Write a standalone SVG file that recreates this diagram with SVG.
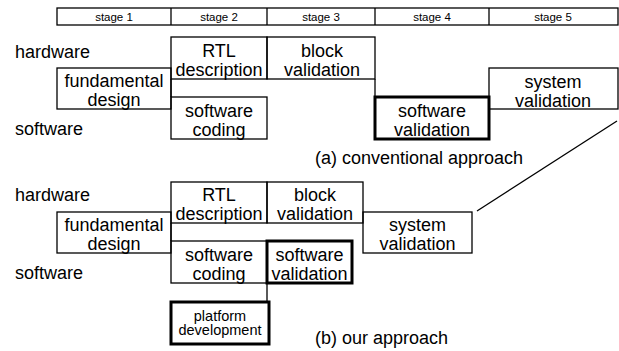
<svg xmlns="http://www.w3.org/2000/svg" width="619" height="351" viewBox="0 0 619 351">
<style>
.box{fill:none;stroke:#000;stroke-width:1.3}
.thick{fill:none;stroke:#000;stroke-width:3}
.t{font-family:"Liberation Sans",Arial,sans-serif;font-size:18px;fill:#000;text-anchor:middle}
.l{font-family:"Liberation Sans",Arial,sans-serif;font-size:18px;fill:#000}
.s{font-family:"Liberation Sans",Arial,sans-serif;font-size:11.5px;fill:#000;text-anchor:middle}
.p{font-family:"Liberation Sans",Arial,sans-serif;font-size:14.5px;fill:#000;text-anchor:middle}
.c{fill:none;stroke:#000;stroke-width:1.3}
</style>
<rect width="619" height="351" fill="#fff"/>
<g id="stages">
<rect class="box" x="57" y="8" width="561" height="17"/>
<line class="box" x1="171" y1="8" x2="171" y2="25"/>
<line class="box" x1="267" y1="8" x2="267" y2="25"/>
<line class="box" x1="375" y1="8" x2="375" y2="25"/>
<line class="box" x1="489" y1="8" x2="489" y2="25"/>
<text class="s" x="114" y="21">stage 1</text>
<text class="s" x="219" y="21">stage 2</text>
<text class="s" x="321" y="21">stage 3</text>
<text class="s" x="432" y="21">stage 4</text>
<text class="s" x="553" y="21">stage 5</text>
</g>
<g id="labels">
<text class="l" x="15" y="58">hardware</text>
<text class="l" x="15" y="135">software</text>
<text class="l" x="315" y="164">(a) conventional approach</text>
<text class="l" x="15" y="201">hardware</text>
<text class="l" x="15" y="279">software</text>
<text class="l" x="315" y="344">(b) our approach</text>
</g>
<g id="a-fundamental">
<rect class="box" x="57" y="68" width="114" height="41"/>
<text class="t" x="114" y="87">fundamental</text><text class="t" x="114" y="106">design</text>
</g>
<g id="a-rtl">
<rect class="box" x="171" y="37" width="96" height="42"/>
<text class="t" x="219" y="56.5">RTL</text><text class="t" x="219" y="75.5">description</text>
</g>
<g id="a-block">
<rect class="box" x="267" y="37" width="108" height="42"/>
<text class="t" x="322" y="56.5">block</text><text class="t" x="322" y="75.5">validation</text>
</g>
<g id="a-swcoding">
<rect class="box" x="171" y="97" width="96" height="42"/>
<text class="t" x="219" y="116.5">software</text><text class="t" x="219" y="135.5">coding</text>
</g>
<g id="a-swvalidation">
<rect class="thick" x="375" y="97" width="114" height="42"/>
<text class="t" x="432" y="116.5">software</text><text class="t" x="432" y="135.5">validation</text>
</g>
<g id="a-system">
<rect class="box" x="489" y="68" width="129" height="41"/>
<text class="t" x="553" y="87.5">system</text><text class="t" x="553" y="106.5">validation</text>
</g>
<g id="b-fundamental">
<rect class="box" x="57" y="212" width="114" height="41"/>
<text class="t" x="114" y="231">fundamental</text><text class="t" x="114" y="250">design</text>
</g>
<g id="b-rtl">
<rect class="box" x="171" y="182" width="96" height="41"/>
<text class="t" x="219" y="201">RTL</text><text class="t" x="219" y="220">description</text>
</g>
<g id="b-block">
<rect class="box" x="267" y="182" width="96" height="41"/>
<text class="t" x="315" y="201">block</text><text class="t" x="315" y="220">validation</text>
</g>
<g id="b-swcoding">
<rect class="box" x="171" y="241" width="96" height="42"/>
<text class="t" x="219" y="260.5">software</text><text class="t" x="219" y="279.5">coding</text>
</g>
<g id="b-swvalidation">
<rect class="thick" x="267" y="241" width="85" height="42"/>
<text class="t" x="309.5" y="260.5">software</text><text class="t" x="309.5" y="279.5">validation</text>
</g>
<g id="b-system">
<rect class="box" x="363" y="212" width="109" height="41"/>
<text class="t" x="417.5" y="231">system</text><text class="t" x="417.5" y="250">validation</text>
</g>
<g id="b-platform">
<rect class="thick" x="171" y="302" width="98" height="42"/>
<text class="p" x="220" y="320.5">platform</text><text class="p" x="220" y="335">development</text>
</g>
<g id="connectors">
<line class="c" x1="171" y1="79" x2="171" y2="97"/>
<line class="c" x1="375" y1="79" x2="375" y2="97"/>
<line class="c" x1="171" y1="223" x2="171" y2="241"/>
<line class="c" x1="267" y1="283" x2="267" y2="302"/>
<line class="c" x1="617" y1="121" x2="477" y2="211"/>
</g>
</svg>
